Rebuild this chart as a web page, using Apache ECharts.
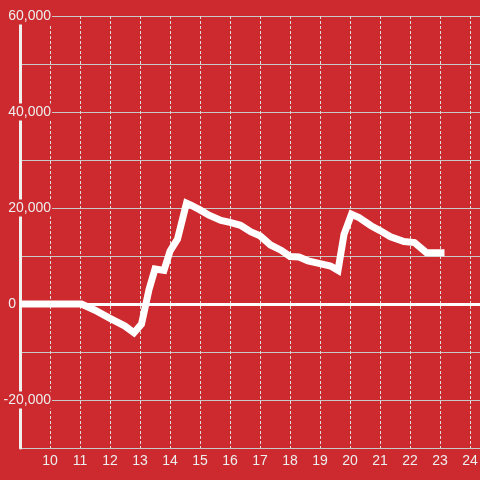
<!DOCTYPE html>
<html>
<head>
<meta charset="utf-8">
<script src="https://cdn.jsdelivr.net/npm/echarts@6/dist/echarts.min.js"></script>
<style>
html,body{margin:0;padding:0;background:#cc2a2e;}
#c{width:480px;height:480px;}
</style>
</head>
<body>
<div id="c"></div>
<script>
// hour of day (x) and value (y)
var hours = [9, 11.05, 11.5, 12.0, 12.5, 12.8, 13.05, 13.3, 13.5, 13.8, 14.0, 14.25, 14.55, 14.7, 15.0, 15.3, 15.7, 16.0, 16.35, 16.7, 17.0, 17.35, 17.7, 18.0, 18.3, 18.6, 19.0, 19.35, 19.6, 19.8, 20.05, 20.3, 20.7, 21.0, 21.35, 21.8, 22.15, 22.55, 23.15];
var values = [0, 0, -1300, -3000, -4600, -6000, -4200, 3000, 7300, 7000, 11000, 13500, 21000, 20600, 19600, 18500, 17400, 17000, 16400, 15000, 14200, 12300, 11200, 9900, 9800, 9000, 8400, 7900, 7000, 14500, 18700, 18000, 16300, 15300, 14000, 13000, 12800, 10700, 10700];
var xTickLabels = [10, 11, 12, 13, 14, 15, 16, 17, 18, 19, 20, 21, 22, 23, 24];
var yTickLabels = [-20000, 0, 20000, 40000, 60000];

var BG = '#cc2a2e';
var TXT = '#eeeeee';
var FONT = 'Liberation Sans, Arial, sans-serif';

var pts = hours.map(function (h, i) { return [h, values[i]]; });

function fmt(v) {
  return String(v).replace(/\B(?=(\d{3})+(?!\d))/g, ',');
}

var chart = echarts.init(document.getElementById('c'), null, {renderer: 'canvas'});
chart.setOption({
  backgroundColor: BG,
  animation: false,
  grid: {left: 20, right: 0, top: 16, bottom: 32, containLabel: false, outerBoundsMode: 'none'},
  xAxis: {
    type: 'value', min: 9, max: 24.333, interval: 1,
    axisLine: {onZero: false, lineStyle: {color: '#c8c8c8', width: 1}},
    axisTick: {show: false},
    axisLabel: {
      margin: 6, color: TXT, fontSize: 14, fontFamily: FONT,
      formatter: function (v) { return xTickLabels.indexOf(v) >= 0 ? String(v) : ''; }
    },
    splitLine: {show: true, lineStyle: {color: '#dddddd', width: 1, type: [3, 2]}}
  },
  yAxis: [{
    type: 'value', min: -30000, max: 60000, interval: 10000, z: 1,
    axisLine: {show: true, onZero: false, lineStyle: {color: '#f0f0f0', width: 3}},
    axisTick: {show: false},
    splitLine: {show: false},
    axisLabel: {
      margin: -32, align: 'right', fontFamily: FONT,
      formatter: function (v) {
        if (yTickLabels.indexOf(v) < 0) return '';
        if (v === 0) return '{z|0}';
        return '{a|' + fmt(v) + '}';
      },
      rich: {
        a: {color: TXT, fontSize: 14, fontFamily: FONT, backgroundColor: BG, padding: [2, 1, 1, 3]},
        z: {color: TXT, fontSize: 14, fontFamily: FONT, padding: [0, 36, 0, 0]}
      }
    }
  }, {
    type: 'value', min: -30000, max: 60000, interval: 10000, z: 0,
    axisLine: {show: false}, axisTick: {show: false}, axisLabel: {show: false},
    splitLine: {show: true, lineStyle: {color: '#c8c8c8', width: 1}}
  }],
  series: [{
    type: 'line',
    data: pts,
    symbol: 'none',
    lineStyle: {color: '#ffffff', width: 7, join: 'miter'},
    clip: false,
    z: 2,
    markLine: {
      silent: true, symbol: 'none', label: {show: false},
      lineStyle: {color: '#ffffff', width: 3, type: 'solid'},
      data: [{yAxis: 0}]
    }
  }]
});
</script>
</body>
</html>
